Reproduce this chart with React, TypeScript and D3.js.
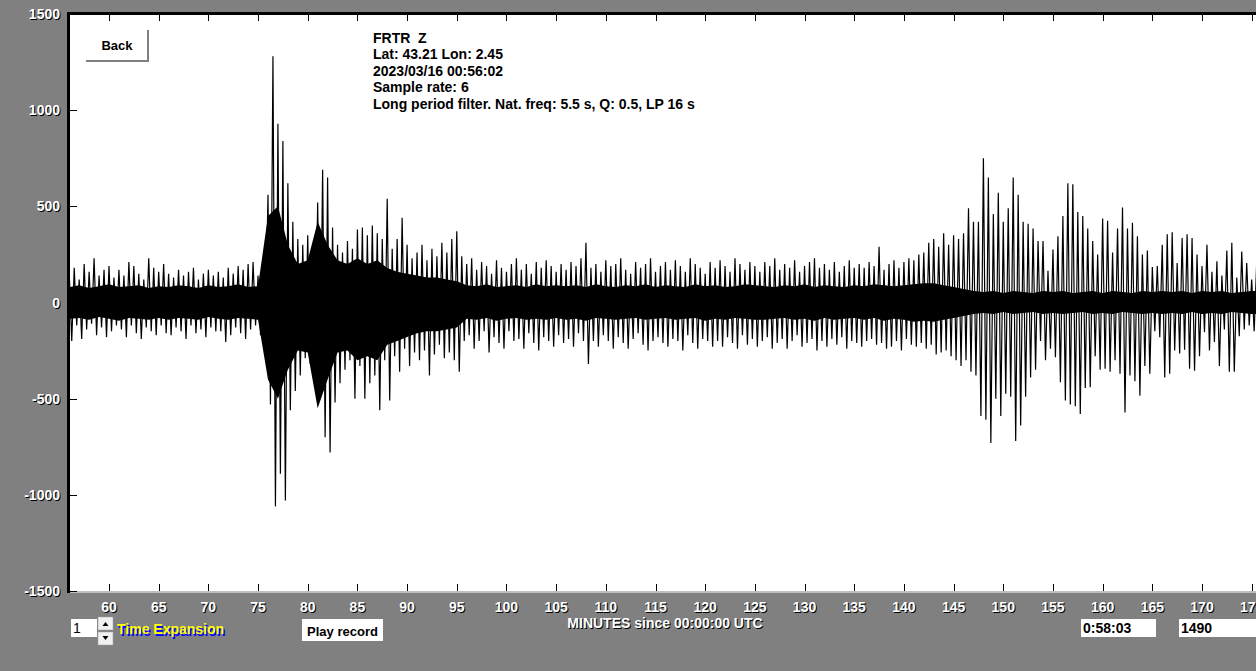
import * as React from 'react'
import * as d3 from 'd3'

const width = 1256
const height = 671
const plot = { left: 69, top: 14, bottom: 591 }
const grey = '#808080'
const font = '"Liberation Sans", Arial, sans-serif'

// trace: one peak at t, one trough at t + 0.25 min, bins every 0.5 min from 56
const binStart = 56
const binStep = 0.5
const peaks = [
  150, 180, 120, 200, 160, 230, 140, 170, 190, 130,
  170, 140, 210, 190, 150, 120, 230, 180, 160, 200,
  150, 130, 170, 140, 160, 180, 120, 150, 170, 140,
  160, 130, 180, 150, 190, 170, 200, 210, 140, 180,
  560, 1280, 930, 840, 620, 420, 330, 300, 350, 290,
  520, 690, 650, 390, 300, 260, 320, 280, 380, 390,
  350, 400, 360, 330, 540, 280, 330, 440, 300, 230,
  260, 300, 220, 280, 240, 310, 260, 330, 370, 240,
  200, 230, 170, 210, 190, 150, 220, 180, 160, 200,
  230, 170, 200, 150, 210, 180, 220, 190, 160, 200,
  170, 210, 190, 230, 310, 180, 200, 160, 220, 190,
  200, 230, 170, 150, 210, 180, 200, 230, 160, 190,
  210, 170, 220, 190, 160, 230, 200, 180, 150, 210,
  180, 220, 190, 160, 230, 200, 170, 210, 190, 160,
  210, 190, 230, 170, 200, 180, 220, 160, 190, 210,
  230, 180, 200, 170, 210, 160, 190, 220, 180, 200,
  180, 210, 190, 290, 170, 200, 220, 180, 210, 230,
  220, 250, 260, 310, 330, 290, 360, 300, 350, 330,
  360, 490, 420, 420, 750, 650, 460, 570, 420, 490,
  650, 560, 420, 410, 385, 320, 320, 165, 275, 345,
  450, 620, 615, 470, 450, 385, 320, 250, 437, 425,
  260, 385, 494, 385, 415, 345, 250, 270, 185, 190,
  300, 355, 365, 205, 335, 355, 335, 250, 190, 300,
  160, 215, 140, 270, 310, 130, 265, 205, 120, 200,
]
const troughs = [
  -200, -120, -190, -140, -110, -170, -130, -180, -150, -120,
  -140, -180, -120, -160, -190, -130, -150, -170, -120, -160,
  -170, -130, -150, -190, -120, -160, -140, -180, -130, -150,
  -150, -205, -170, -130, -160, -190, -140, -120, -170, -150,
  -530, -1060, -890, -1030, -560, -460, -380, -290, -320, -250,
  -420, -700, -780, -520, -420, -350, -300, -500, -330, -500,
  -420, -380, -560, -300, -510, -280, -360, -240, -330, -260,
  -300, -250, -380, -270, -220, -290, -260, -300, -360, -200,
  -170, -240, -200, -150, -260, -180, -210, -240, -150, -200,
  -190, -240, -160, -210, -250, -180, -200, -230, -170, -210,
  -190, -230, -160, -200, -320, -200, -230, -170, -200, -240,
  -180, -210, -240, -190, -160, -220, -250, -200, -180, -210,
  -230, -190, -200, -250, -170, -210, -240, -190, -200, -230,
  -200, -230, -180, -210, -240, -170, -220, -190, -230, -200,
  -180, -240, -210, -190, -240, -200, -170, -230, -210, -190,
  -250, -200, -230, -190, -220, -180, -240, -200, -210, -230,
  -200, -190, -220, -210, -240, -230, -200, -250, -190, -220,
  -230, -210, -240, -220, -270, -260, -250, -280, -300, -330,
  -300, -360, -380, -590, -610, -730, -500, -590, -475, -490,
  -720, -640, -490, -390, -350, -200, -300, -240, -285, -415,
  -510, -530, -540, -580, -445, -440, -280, -350, -345, -360,
  -300, -370, -572, -380, -410, -485, -330, -370, -150, -180,
  -390, -370, -250, -265, -245, -345, -355, -280, -155, -250,
  -205, -330, -140, -360, -360, -175, -140, -120, -150, -180,
]
// extent of the solid black core, one value per minute from 56 to 176
const coreStart = 56
const coreHi = [
  80, 90, 75, 85, 95, 80, 85, 90, 75, 85,
  80, 90, 85, 75, 90, 80, 85, 95, 80, 85,
  450, 500, 300, 200, 220, 420, 300, 220, 200, 230,
  200, 220, 180, 160, 150, 140, 130, 130, 120, 110,
  90, 85, 95, 80, 85, 90, 80, 95, 85, 90,
  85, 90, 80, 95, 85, 80, 90, 85, 95, 80,
  90, 85, 80, 95, 85, 90, 80, 85, 95, 90,
  85, 80, 90, 85, 95, 80, 90, 85, 80, 90,
  85, 95, 90, 85, 90, 95, 100, 100, 90, 80,
  70, 60, 55, 60, 50, 60, 55, 50, 60, 55,
  60, 50, 55, 60, 50, 60, 55, 50, 60, 55,
  60, 55, 60, 50, 60, 55, 60, 50, 55, 60, 60,
]
const coreLo = [
  -85, -80, -90, -75, -85, -95, -80, -85, -90, -80,
  -90, -80, -85, -90, -75, -85, -90, -80, -85, -90,
  -400, -500, -350, -250, -260, -550, -400, -260, -250, -300,
  -280, -300, -220, -200, -180, -160, -150, -150, -140, -130,
  -85, -90, -80, -95, -85, -80, -90, -85, -90, -80,
  -90, -85, -95, -80, -85, -90, -85, -80, -90, -85,
  -80, -90, -85, -80, -95, -85, -90, -80, -85, -90,
  -90, -85, -80, -90, -85, -95, -80, -90, -85, -80,
  -90, -80, -95, -85, -90, -100, -95, -100, -90, -80,
  -70, -60, -55, -60, -50, -60, -55, -50, -60, -55,
  -60, -55, -50, -60, -55, -60, -50, -55, -60, -55,
  -60, -55, -60, -50, -60, -55, -60, -50, -55, -60, -60,
]

const xTicks = [60, 65, 70, 75, 80, 85, 90, 95, 100, 105, 110, 115, 120, 125, 130, 135, 140, 145, 150, 155, 160, 165, 170, 175]
const yTicks = [1500, 1000, 500, 0, -500, -1000, -1500]
const info = [
  'FRTR  Z',
  'Lat: 43.21 Lon: 2.45',
  '2023/03/16 00:56:02',
  'Sample rate: 6',
  'Long period filter. Nat. freq: 5.5 s, Q: 0.5, LP 16 s',
]

const Shadowed = ({ x, y, text, fill, shadow, anchor, size, weight, dx = 1, dy = 1 }: any) => (
  <g fontFamily={font} fontSize={size} fontWeight={weight} textAnchor={anchor}>
    <text x={x + dx} y={y + dy} fill={shadow}>{text}</text>
    <text x={x} y={y} fill={fill}>{text}</text>
  </g>
)

const App = () => {
  const x = d3.scaleLinear().domain([60, 170]).range([109, 1202])
  const y = d3.scaleLinear().domain([-1500, 1500]).range([plot.bottom, plot.top])

  const trace: [number, number][] = peaks.flatMap((p, i) => [
    [binStart + i * binStep, p],
    [binStart + i * binStep + binStep / 2, troughs[i]],
  ])
  const line = d3
    .line<[number, number]>()
    .x(d => x(d[0]))
    .y(d => y(d[1]))
  const coreArea = d3
    .area<number>()
    .x((d, i) => x(coreStart + i))
    .y0((d, i) => y(coreLo[i]))
    .y1(d => y(d))

  return (
    <svg width={width} height={height} style={{ position: 'absolute', left: 0, top: 0 }}>
      <rect width={width} height={height} fill={grey} />
      <defs>
        <clipPath id="plotClip">
          <rect x={70} y={15} width={width - 70} height={plot.bottom - 15} />
        </clipPath>
      </defs>
      <rect x={plot.left} y={plot.top} width={width - plot.left} height={plot.bottom - plot.top} fill="#fff" />

      <g clipPath="url(#plotClip)">
        <path d={coreArea(coreHi) || ''} fill="#000" />
        <path d={line(trace) || ''} fill="none" stroke="#000" strokeWidth={1.2} />
      </g>

      {/* frame */}
      <line x1={68.5} x2={68.5} y1={12} y2={plot.bottom + 2} stroke="#000" strokeWidth={3} />
      <line x1={67} x2={width} y1={13.5} y2={13.5} stroke="#000" strokeWidth={3} />
      <line x1={70} x2={width} y1={plot.bottom + 1} y2={plot.bottom + 1} stroke="#c0c0c0" strokeWidth={2} />

      {/* ticks */}
      {xTicks.map(t => (
        <g key={t}>
          <line x1={Math.round(x(t)) + 0.5} x2={Math.round(x(t)) + 0.5} y1={15} y2={21} stroke="#000" />
          <line x1={Math.round(x(t)) + 0.5} x2={Math.round(x(t)) + 0.5} y1={plot.bottom - 7} y2={plot.bottom} stroke="#000" />
          <Shadowed x={x(t)} y={612} text={t} fill="#fff" shadow="#000" anchor="middle" size={14} weight="bold" />
        </g>
      ))}
      {yTicks.map(t => (
        <g key={t}>
          <line x1={70} x2={77} y1={Math.round(y(t)) + 0.5} y2={Math.round(y(t)) + 0.5} stroke="#000" />
          <Shadowed x={60} y={y(t) + 5} text={t} fill="#fff" shadow="#000" anchor="end" size={14} weight="bold" />
        </g>
      ))}

      {/* header */}
      <g fontFamily={font} fontSize={14} fontWeight="bold" fill="#000">
        {info.map((s, i) => (
          <text key={i} x={373} y={43 + i * 16.4} style={{ whiteSpace: 'pre' }}>{s}</text>
        ))}
      </g>

      {/* Back button */}
      <rect x={86} y={30} width={62} height={32} fill="#fff" />
      <path d="M86,61 H148 V30" fill="none" stroke="#808080" strokeWidth={2} />
      <text x={117} y={50} textAnchor="middle" fontFamily={font} fontSize={13} fontWeight="bold" fill="#000">Back</text>

      {/* bottom controls */}
      <rect x={71} y={619} width={26} height={18} fill="#fff" />
      <text x={73} y={633} fontFamily={font} fontSize={14} fill="#000">1</text>
      <rect x={98} y={617} width={15} height={13} fill="#f0f0f0" stroke="#a0a0a0" strokeWidth={0.5} />
      <path d="M102.5,626 L108.5,626 L105.5,622 Z" fill="#000" />
      <rect x={98} y={632} width={15} height={13} fill="#f0f0f0" stroke="#a0a0a0" strokeWidth={0.5} />
      <path d="M102.5,636 L108.5,636 L105.5,640 Z" fill="#000" />
      <Shadowed x={117} y={634} text="Time Expansion" fill="#ffff00" shadow="#0000ff" anchor="start" size={14} weight="bold" dx={1.5} dy={1.5} />

      <rect x={302} y={619} width={81} height={22} fill="#fff" />
      <text x={342.5} y={636} textAnchor="middle" fontFamily={font} fontSize={13} fontWeight="bold" fill="#000">Play record</text>

      <Shadowed x={665} y={628} text="MINUTES since 00:00:00 UTC" fill="#fff" shadow="#000" anchor="middle" size={14} weight="bold" />

      <rect x={1081} y={619} width={75} height={18} fill="#fff" />
      <text x={1083} y={633} fontFamily={font} fontSize={14} fontWeight="bold" fill="#000">0:58:03</text>
      <rect x={1179} y={619} width={80} height={18} fill="#fff" />
      <text x={1181} y={633} fontFamily={font} fontSize={14} fontWeight="bold" fill="#000">1490</text>
    </svg>
  )
}

export default App
